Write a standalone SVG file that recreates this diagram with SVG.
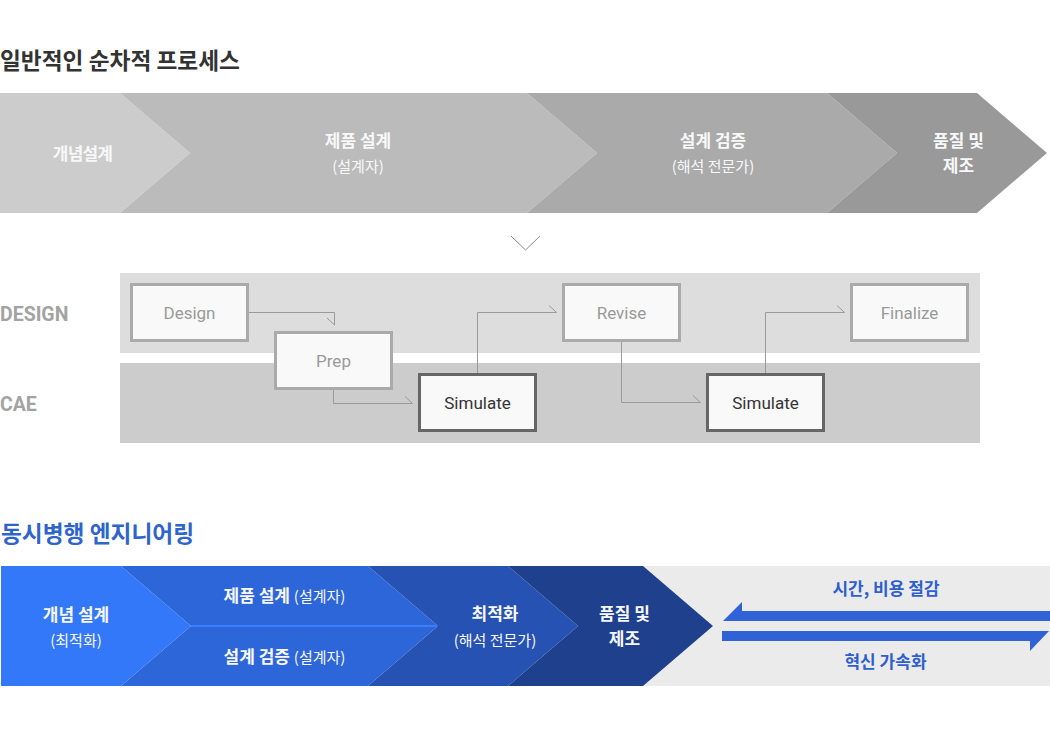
<svg xmlns="http://www.w3.org/2000/svg" width="1050" height="735" viewBox="0 0 1050 735">
<style>
.kr{font-family:"Noto Sans CJK KR","Noto Sans",sans-serif;}
.ttl{font-size:22.7px;font-weight:700;}
.cw{fill:#f8f8f8;text-anchor:middle;}
.b16{font-size:17px;font-weight:700;}
.r14{font-size:15px;font-weight:400;}
.lane{font-family:Roboto,"Liberation Sans",sans-serif;font-size:19.5px;font-weight:700;fill:#a3a3a3;}
.box{fill:#f9f9f9;stroke:#aaaaaa;stroke-width:3;}
.box.dk{stroke:#666666;}
.bt{font-family:Roboto,"Liberation Sans",sans-serif;font-size:17px;fill:#999999;text-anchor:middle;}
.bt.dk{fill:#333333;}
.con{fill:none;stroke:#9a9a9a;stroke-width:1;marker-end:url(#barb);}
.bl{fill:#2e5fcf;text-anchor:middle;}
</style>
<defs>
<marker id="barb" markerUnits="userSpaceOnUse" viewBox="-10 -10 12 12" refX="0" refY="0" markerWidth="12" markerHeight="12" overflow="visible">
<path d="M-7.5 -7 L0 0" fill="none" stroke="#9a9a9a" stroke-width="1"/>
</marker>
</defs>
<rect width="1050" height="735" fill="#ffffff"/>

<text class="kr ttl" x="0" y="69" fill="#333333">일반적인 순차적 프로세스</text>

<g id="seq-chevrons">
<g id="seq1">
<polygon points="0,93 120,93 190,153 120,213 0,213" fill="#cccccc"/>
<text class="kr cw b16" x="82.5" y="160" letter-spacing="-0.8">개념설계</text>
</g>
<g id="seq2">
<polygon points="120,93 527,93 597,153 527,213 120,213 190,153" fill="#bbbbbb"/>
<text class="kr cw b16" x="358" y="147">제품 설계</text>
<text class="kr cw r14" x="358" y="171.5">(설계자)</text>
</g>
<g id="seq3">
<polygon points="527,93 827,93 897,153 827,213 527,213 597,153" fill="#aaaaaa"/>
<text class="kr cw b16" x="713" y="147">설계 검증</text>
<text class="kr cw r14" x="713" y="171.5">(해석 전문가)</text>
</g>
<g id="seq4">
<polygon points="827,93 977,93 1047,153 977,213 827,213 897,153" fill="#999999"/>
<text class="kr cw b16" x="958.5" y="147">품질 및</text>
<text class="kr cw b16" x="958.5" y="172">제조</text>
</g>
</g>

<g id="down-chevron">
<polyline points="511,236 525.5,250 540,236" fill="none" stroke="#8c8c8c" stroke-width="1"/>
</g>

<g id="lanes">
<rect x="120" y="273" width="860" height="80" fill="#dddddd"/>
<rect x="120" y="363" width="860" height="80" fill="#cccccc"/>
<text class="lane" x="0" y="321">DESIGN</text>
<text class="lane" x="0" y="411">CAE</text>
</g>

<g id="connectors">
<path class="con" d="M249 312.5 H334.5 V325"/>
<path class="con" d="M333.5 390 V403.5 H412.5"/>
<path class="con" d="M477.5 373 V312.5 H556.5"/>
<path class="con" d="M621.5 342 V402.5 H700.5"/>
<path class="con" d="M765.5 373 V312.5 H844.5"/>
</g>

<g id="n-design">
<rect class="box" x="131.5" y="284.5" width="116" height="56"/>
<text class="bt" x="189.5" y="318.5">Design</text>
</g>
<g id="n-prep">
<rect class="box" x="275.5" y="332.5" width="116" height="56"/>
<text class="bt" x="333.5" y="366.5">Prep</text>
</g>
<g id="n-simulate1">
<rect class="box dk" x="419.5" y="374.5" width="116" height="56"/>
<text class="bt dk" x="477.5" y="409">Simulate</text>
</g>
<g id="n-revise">
<rect class="box" x="563.5" y="284.5" width="116" height="56"/>
<text class="bt" x="621.5" y="318.5">Revise</text>
</g>
<g id="n-simulate2">
<rect class="box dk" x="707.5" y="374.5" width="116" height="56"/>
<text class="bt dk" x="765.5" y="409">Simulate</text>
</g>
<g id="n-finalize">
<rect class="box" x="851.5" y="284.5" width="116" height="56"/>
<text class="bt" x="909.5" y="318.5">Finalize</text>
</g>

<text class="kr ttl" x="1" y="541.5" fill="#2e64cc">동시병행 엔지니어링</text>

<g id="concurrent">
<rect x="643" y="566" width="407" height="120" fill="#ebebeb"/>
<g id="c1">
<polygon points="1,566 121,566 191,626 121,686 1,686" fill="#3478fa"/>
<text class="kr cw b16" x="76" y="621">개념 설계</text>
<text class="kr cw r14" x="76" y="645.5">(최적화)</text>
</g>
<g id="c2">
<polygon points="121,566 368,566 438,626 368,686 121,686 191,626" fill="#2d66d9"/>
<line x1="191" y1="626" x2="438" y2="626" stroke="#3a7dff" stroke-width="2"/>
<text class="kr cw" x="284.5" y="602"><tspan class="b16">제품 설계 </tspan><tspan class="r14">(설계자)</tspan></text>
<text class="kr cw" x="284.5" y="663"><tspan class="b16">설계 검증 </tspan><tspan class="r14">(설계자)</tspan></text>
</g>
<g id="c3">
<polygon points="368,566 508,566 578,626 508,686 368,686 438,626" fill="#2652b4"/>
<text class="kr cw b16" x="495" y="620">최적화</text>
<text class="kr cw r14" x="495" y="645.5">(해석 전문가)</text>
</g>
<g id="c4">
<polygon points="508,566 643,566 713,626 643,686 508,686 578,626" fill="#1f418d"/>
<text class="kr cw b16" x="624.5" y="619.5">품질 및</text>
<text class="kr cw b16" x="624.5" y="645">제조</text>
</g>
<g id="benefit-arrows">
<polygon points="723,621 742,602 742,611 1050,611 1050,621" fill="#2e62d6"/>
<polygon points="722,631 1049,631 1030,651 1030,641 722,641" fill="#2e62d6"/>
<text class="kr bl b16" x="886" y="595">시간, 비용 절감</text>
<text class="kr bl b16" x="885.5" y="668">혁신 가속화</text>
</g>
</g>
</svg>
